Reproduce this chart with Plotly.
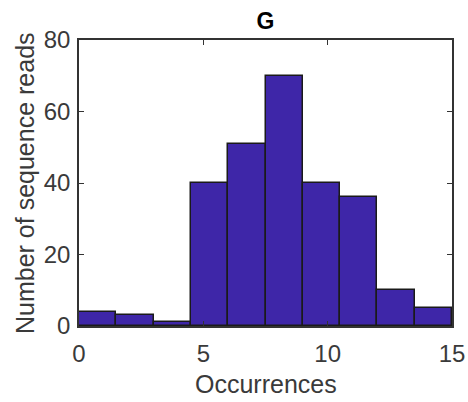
import plotly.graph_objects as go

bin_edges = [0, 1.5, 3, 4.5, 6, 7.5, 9, 10.5, 12, 13.5, 15]
counts = [4, 3, 1, 40, 51, 70, 40, 36, 10, 5]
x_ticks = [0, 5, 10, 15]
y_ticks = [0, 20, 40, 60, 80]

centers = [(a + b) / 2 for a, b in zip(bin_edges[:-1], bin_edges[1:])]
widths = [b - a for a, b in zip(bin_edges[:-1], bin_edges[1:])]

fig = go.Figure(go.Bar(
    x=centers, y=counts, width=widths,
    marker=dict(color="#3E26A8", line=dict(color="#1a1a1a", width=1.5)),
))

font = "Liberation Sans, Arial, Helvetica, sans-serif"
axis_common = dict(
    showline=True, linecolor="#333333", linewidth=1.5, mirror="allticks",
    ticks="inside", ticklen=5, tickcolor="#333333", tickwidth=1,
    showgrid=False, zeroline=False, automargin=False,
    tickfont=dict(family=font, size=24, color="#3a3a3a"),
)
fig.update_xaxes(range=[0, 15], tickvals=x_ticks, ticklabelstandoff=5, **axis_common)
fig.update_yaxes(range=[0, 80], tickvals=y_ticks, ticklabelstandoff=2, **axis_common)

title_font = dict(family=font, size=25, color="#3a3a3a")
fig.add_annotation(text="Occurrences", xref="paper", yref="paper", x=0.5, y=0,
                   xanchor="center", yanchor="middle", yshift=-58,
                   showarrow=False, font=title_font)
fig.add_annotation(text="Number of sequence reads", xref="paper", yref="paper",
                   x=0, y=0.5, xanchor="center", yanchor="middle", xshift=-54,
                   textangle=-90, showarrow=False, font=title_font)

fig.update_layout(
    width=468, height=402,
    margin=dict(l=79, r=16, t=40, b=76),
    paper_bgcolor="white", plot_bgcolor="white",
    title=dict(text="<b>G</b>", x=0.5, xanchor="center", xref="paper",
               y=1 - 21 / 402, yanchor="middle", yref="container",
               font=dict(family=font, size=23, color="#000000")),
    showlegend=False, bargap=0,
)
fig.write_html(
    "out.html",
    config={"displayModeBar": False},
    post_script="document.body.style.margin='0';document.body.style.overflow='hidden';",
)
